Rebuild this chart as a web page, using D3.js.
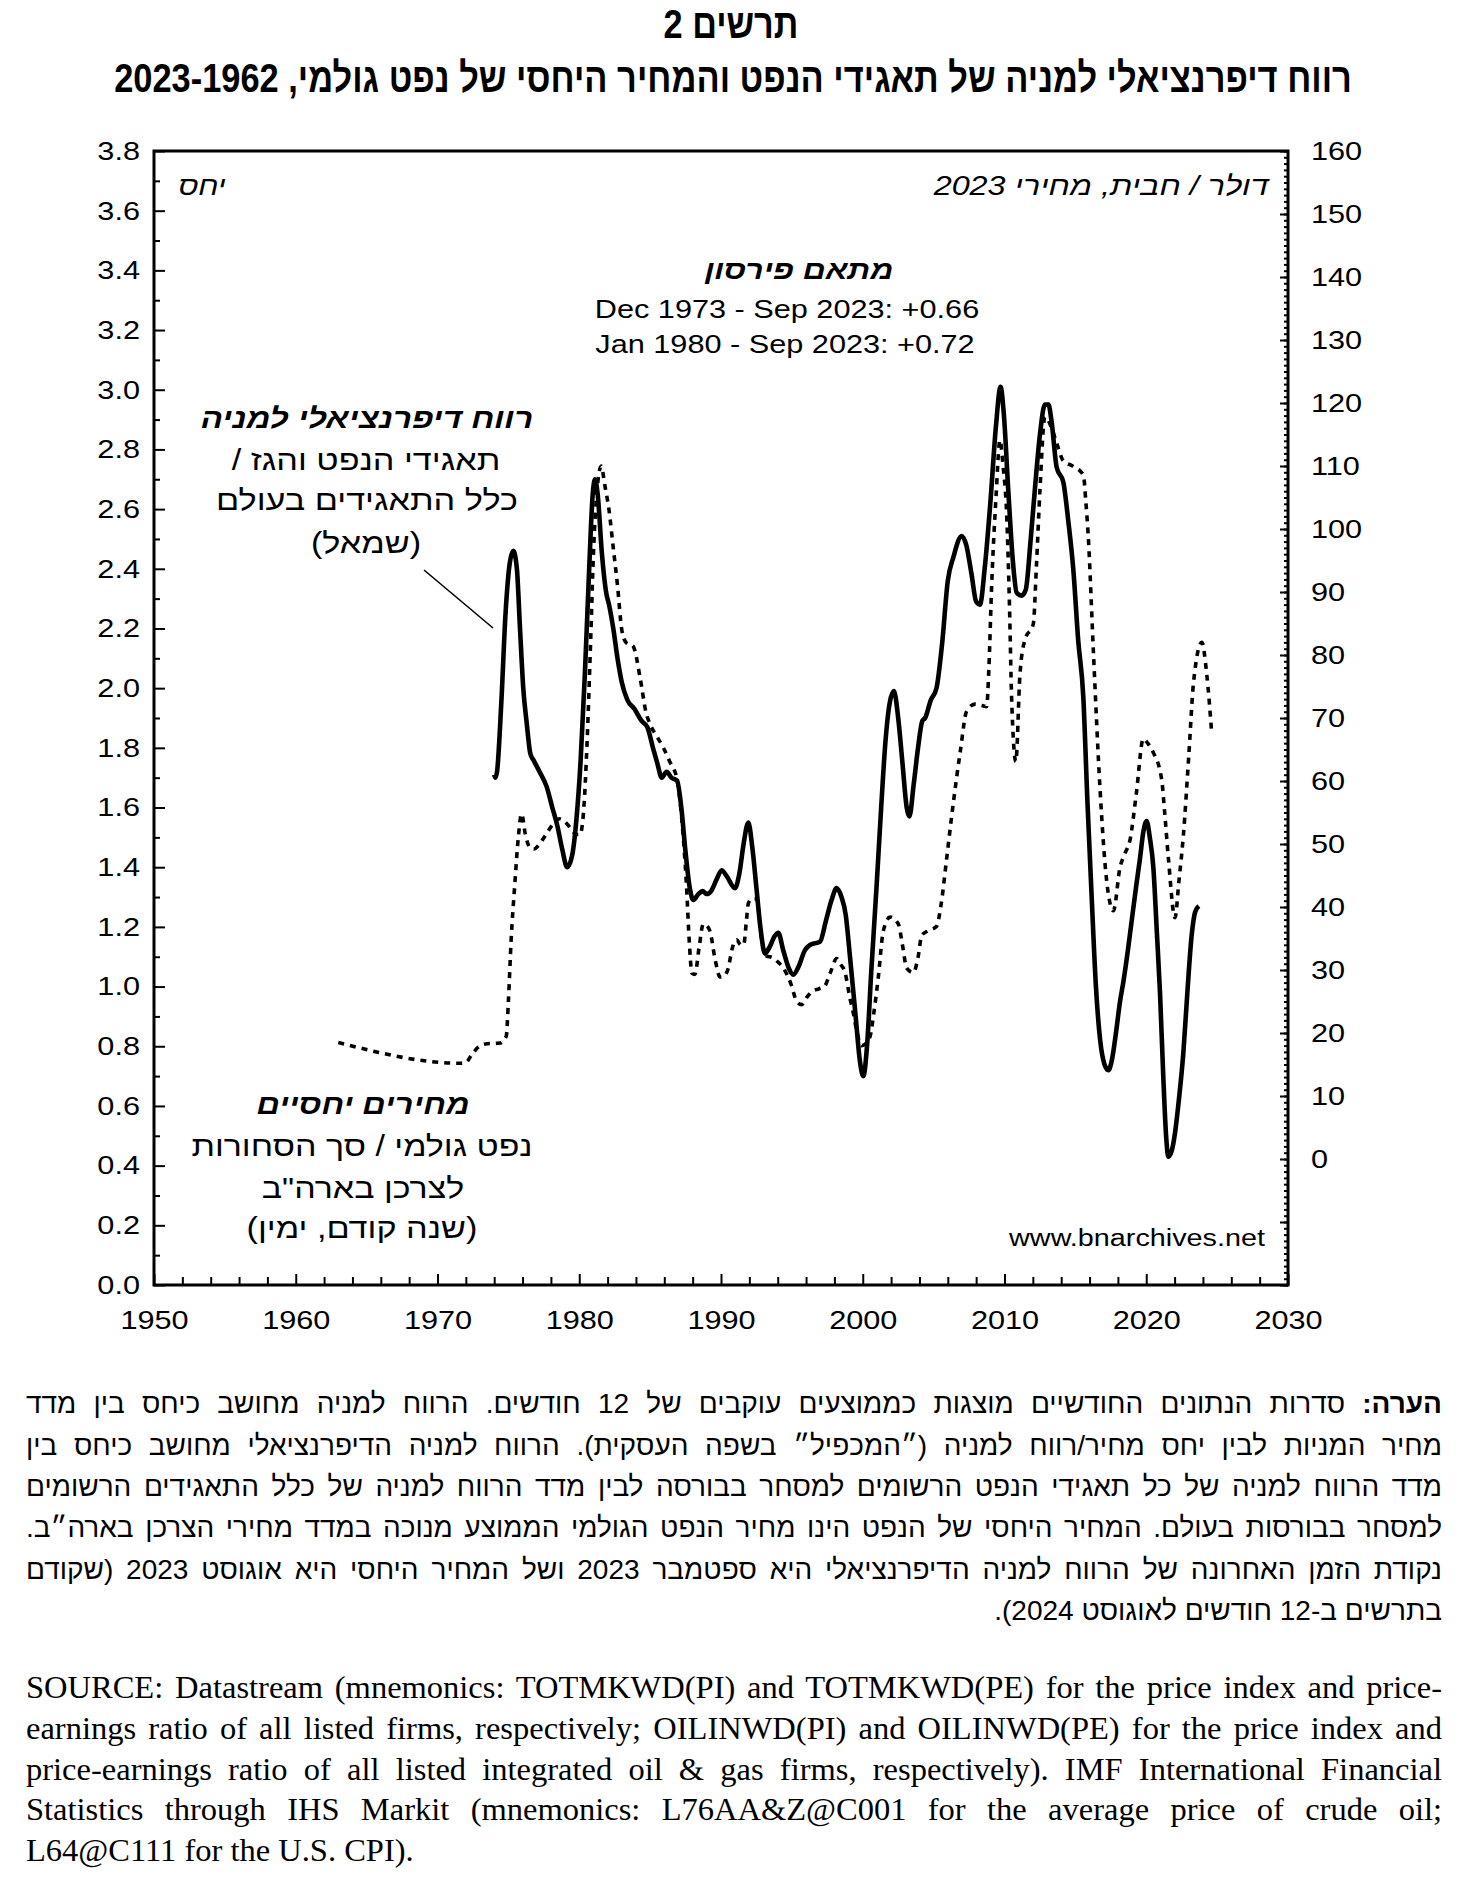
<!DOCTYPE html>
<html><head><meta charset="utf-8">
<script src="https://cdn.jsdelivr.net/npm/d3@7"></script>
<style>
body{margin:0;background:#fff;}
#wrap{position:relative;width:1462px;height:1884px;overflow:hidden;background:#fff}
svg{position:absolute;left:0;top:0}
.ln{position:absolute;left:26px;width:1416px;line-height:0;height:0;text-align:justify;text-align-last:justify;color:#000;white-space:normal}
.he{direction:rtl;font-family:"Liberation Sans",Arial,sans-serif;font-size:28px}
.en{direction:ltr;font-family:"Liberation Serif","Times New Roman",serif;font-size:32.5px}
.he.last{text-align-last:right}
.en.last{text-align-last:left}
</style></head>
<body><div id="wrap"><svg id="chart" width="1462" height="1884"></svg></div>
<script>
// ---------- DATA ----------
const titleLines = ["תרשים 2", "רווח דיפרנציאלי למניה של תאגידי הנפט והמחיר היחסי של נפט גולמי, 1962\u200F-\u200F2023"];

// Differential EPS: oil & gas firms / all firms (left axis)
const epsYears = [1974.0,1974.08,1974.2,1974.5,1974.8,1975.1,1975.35,1975.6,1975.82,1976.05,1976.3,1976.55,1976.76,1977.2,1977.7,1978.1,1978.45,1978.8,1979.15,1979.5,1979.8,1980.1,1980.4,1980.7,1980.95,1981.11,1981.3,1981.6,1981.9,1982.1,1982.4,1982.7,1983.0,1983.4,1983.9,1984.4,1984.8,1985.2,1985.5,1985.82,1986.17,1986.5,1986.9,1987.2,1987.5,1987.8,1988.05,1988.4,1988.7,1989.0,1989.3,1989.7,1990.05,1990.4,1990.99,1991.3,1991.6,1991.93,1992.2,1992.5,1992.8,1993.1,1993.4,1993.8,1994.04,1994.4,1994.8,1995.1,1995.5,1995.9,1996.3,1996.98,1997.4,1997.8,1998.16,1998.5,1998.8,1999.1,1999.5,1999.8,2000.04,2000.3,2000.6,2000.98,2001.3,2001.6,2001.9,2002.2,2002.5,2002.8,2003.1,2003.29,2003.6,2003.9,2004.2,2004.4,2004.8,2005.2,2005.6,2006.0,2006.4,2006.98,2007.3,2007.68,2008.0,2008.27,2008.6,2009.0,2009.4,2009.72,2009.95,2010.27,2010.6,2010.86,2011.2,2011.5,2011.85,2012.15,2012.5,2012.85,2013.1,2013.33,2013.68,2014.15,2014.5,2014.85,2015.2,2015.56,2015.85,2016.15,2016.45,2016.75,2017.05,2017.33,2017.6,2017.85,2018.15,2018.4,2018.7,2018.97,2019.3,2019.56,2019.8,2020.03,2020.25,2020.5,2020.75,2020.97,2021.2,2021.4,2021.56,2021.8,2022.03,2022.3,2022.62,2022.9,2023.2,2023.45,2023.71];
const epsRatio = [1.71,1.70,1.72,1.95,2.25,2.42,2.46,2.40,2.20,2.00,1.88,1.78,1.76,1.72,1.67,1.60,1.54,1.46,1.40,1.44,1.56,1.76,2.05,2.40,2.65,2.70,2.65,2.45,2.32,2.28,2.20,2.10,2.02,1.96,1.93,1.89,1.87,1.80,1.75,1.70,1.72,1.70,1.69,1.60,1.45,1.33,1.29,1.31,1.32,1.31,1.32,1.36,1.39,1.37,1.33,1.38,1.48,1.55,1.47,1.33,1.19,1.11,1.13,1.17,1.18,1.12,1.06,1.04,1.07,1.12,1.14,1.15,1.22,1.29,1.33,1.30,1.24,1.10,0.90,0.75,0.70,0.80,1.05,1.34,1.60,1.82,1.95,1.99,1.90,1.75,1.60,1.57,1.68,1.80,1.89,1.90,1.96,2.00,2.15,2.36,2.44,2.51,2.48,2.38,2.29,2.28,2.40,2.62,2.88,3.01,2.92,2.66,2.42,2.32,2.31,2.33,2.50,2.67,2.85,2.95,2.95,2.89,2.74,2.69,2.56,2.40,2.16,1.97,1.62,1.30,1.00,0.82,0.74,0.72,0.76,0.84,0.95,1.02,1.12,1.22,1.34,1.43,1.52,1.555,1.50,1.40,1.18,0.98,0.70,0.50,0.43,0.45,0.51,0.62,0.78,0.98,1.17,1.25,1.27];

// Relative price of crude oil, 2023 $/barrel, led by one year (right axis)
const oilYears = [1963.0,1971.6,1972.0,1972.4,1972.9,1973.5,1974.4,1974.85,1975.0,1975.2,1975.45,1975.7,1975.93,1976.2,1976.5,1976.8,1977.2,1977.6,1978.1,1978.6,1979.0,1979.4,1979.8,1980.05,1980.3,1980.55,1980.8,1981.0,1981.25,1981.55,1981.8,1982.1,1982.4,1982.7,1983.0,1983.3,1983.8,1984.3,1984.7,1985.0,1985.5,1985.93,1986.4,1986.87,1987.1,1987.34,1987.55,1987.75,1987.95,1988.16,1988.45,1988.75,1989.0,1989.22,1989.6,1989.93,1990.2,1990.51,1990.8,1991.1,1991.4,1991.6,1991.8,1991.93,1992.2,1992.52,1992.87,1993.22,1993.6,1994.0,1994.4,1994.98,1995.3,1995.68,1996.1,1996.51,1996.9,1997.33,1997.7,1998.16,1998.4,1998.75,1999.1,1999.34,1999.6,1999.92,2000.2,2000.51,2000.8,2001.1,2001.45,2001.93,2002.51,2002.8,2003.1,2003.57,2003.9,2004.16,2004.6,2005.2,2005.5,2005.91,2006.25,2006.62,2006.9,2007.33,2007.92,2008.4,2008.74,2008.9,2009.09,2009.4,2009.68,2009.9,2010.15,2010.35,2010.5,2010.8,2011.09,2011.44,2012.03,2012.25,2012.5,2012.85,2013.33,2013.7,2014.15,2014.8,2015.56,2015.75,2015.91,2016.27,2016.74,2017.21,2017.68,2018.15,2018.5,2018.86,2019.3,2019.79,2020.1,2020.5,2021.09,2021.3,2021.56,2022.03,2022.3,2022.62,2023.0,2023.33,2023.92,2024.27,2024.62];
const oilPrice = [18.5,15.2,15.3,16.5,17.8,18.3,18.4,19.5,25,35,43.5,51,54.8,51.5,49.5,49.2,50.0,51.3,53.0,54.0,53.5,52.5,51.5,51.5,55,66,82,96,106,110,107,103,97,91,84,82,81.4,76.3,71,69,67,65.3,63,60.5,57,51,44,35,29.5,29.3,33.5,37.3,37,36.2,31.5,28.9,29,30.3,33.5,34.8,34,34,38,40.6,41.3,41.3,34.8,32.2,32.0,31.3,30.3,27.5,25.2,24.5,25.8,26.7,27,27.5,29.5,31.8,31,29.6,25.5,23.1,20,18.0,18.3,19.4,23.5,28.9,36.2,38.4,37.3,34,30.3,29.6,32,35.5,36.2,36.9,40,47.5,54,60.5,65,71.1,72.2,72,71.8,78,90.8,105,114.1,110,102.4,88,73.3,63.1,76.9,82.4,84.9,94,106.1,117.8,116,113.5,110.8,110,108.6,104,98.8,80.6,58.7,44.1,39.4,46.3,48.5,50.7,58,66.7,66,64.5,60.2,55,47.8,38.3,44,51.4,64,75.5,82.0,76.9,67.5];

const xTickYears = [1950,1960,1970,1980,1990,2000,2010,2020,2030];
const xMinorYears = [1952,1954,1956,1958,1962,1964,1966,1968,1972,1974,1976,1978,1982,1984,1986,1988,1992,1994,1996,1998,2002,2004,2006,2008,2012,2014,2016,2018,2022,2024,2026,2028];
const leftTicks = [0,0.2,0.4,0.6,0.8,1.0,1.2,1.4,1.6,1.8,2.0,2.2,2.4,2.6,2.8,3.0,3.2,3.4,3.6,3.8];
const leftMinor = [0.1,0.3,0.5,0.7,0.9,1.1,1.3,1.5,1.7,1.9,2.1,2.3,2.5,2.7,2.9,3.1,3.3,3.5,3.7];
const rightTicks = [0,10,20,30,40,50,60,70,80,90,100,110,120,130,140,150,160];
const rightUnlabeled = [-20,-10];

const leftUnitLabel = "יחס";
const rightUnitLabel = "דולר / חבית, מחירי 2023";
const pearsonTitle = "מתאם פירסון";
const pearsonLines = ["Dec 1973 - Sep 2023: +0.66", "Jan 1980 - Sep 2023: +0.72"];
const epsLabel = ["רווח דיפרנציאלי למניה", "תאגידי הנפט והגז /", "כלל התאגידים בעולם", "(שמאל)"];
const oilLabel = ["מחירים יחסיים", "נפט גולמי / סך הסחורות", "לצרכן בארה\"ב", "(שנה קודם, ימין)"];
const siteLabel = "www.bnarchives.net";

const noteLines = [
  "<b>הערה:</b> סדרות הנתונים החודשיים מוצגות כממוצעים עוקבים של 12 חודשים. הרווח למניה מחושב כיחס בין מדד",
  "מחיר המניות לבין יחס מחיר/רווח למניה (״המכפיל״ בשפה העסקית). הרווח למניה הדיפרנציאלי מחושב כיחס בין",
  "מדד הרווח למניה של כל תאגידי הנפט הרשומים למסחר בבורסה לבין מדד הרווח למניה של כלל התאגידים הרשומים",
  "למסחר בבורסות בעולם. המחיר היחסי של הנפט הינו מחיר הנפט הגולמי הממוצע מנוכה במדד מחירי הצרכן בארה״ב.",
  "נקודת הזמן האחרונה של הרווח למניה הדיפרנציאלי היא ספטמבר 2023 ושל המחיר היחסי היא אוגוסט 2023 (שקודם",
  "בתרשים ב-12 חודשים לאוגוסט 2024)."
];
const sourceLines = [
  "SOURCE: Datastream (mnemonics: TOTMKWD(PI) and TOTMKWD(PE) for the price index and price-",
  "earnings ratio of all listed firms, respectively; OILINWD(PI) and OILINWD(PE) for the price index and",
  "price-earnings ratio of all listed integrated oil &amp; gas firms, respectively). IMF International Financial",
  "Statistics through IHS Markit (mnemonics: L76AA&amp;Z@C001 for the average price of crude oil;",
  "L64@C111 for the U.S. CPI)."
];

// ---------- CHART ----------
const SX = 1.18; // horizontal stretch of chart text
const FONT = '"Liberation Sans", Arial, sans-serif';
const svg = d3.select("#chart");
const L = 154, R = 1288, T = 151, B = 1285;
const x = d3.scaleLinear().domain([1950, 2030]).range([L, R]);
const yL = d3.scaleLinear().domain([0, 3.8]).range([B, T]);
const yR = d3.scaleLinear().domain([-20, 160]).range([B, T]);

// titles: measured, then squeezed horizontally to the reference width
function title(str, cx, cy, size, width) {
  const t = svg.append("text").text(str)
    .attr("x", 0).attr("y", 0).attr("text-anchor", "middle").attr("direction", "rtl")
    .attr("font-family", FONT).attr("font-weight", "bold").attr("font-size", size).attr("fill", "#000");
  const w = t.node().getComputedTextLength();
  t.attr("transform", `translate(${cx},${cy}) scale(${width / w},1)`);
}
title(titleLines[0], 731, 38, 41, 135);
title(titleLines[1], 733, 92, 41, 1238);

function styleAxis(g) {
  g.select(".domain").remove();
  g.selectAll("line").attr("stroke", "#000").attr("stroke-width", 2);
  g.selectAll("text").attr("font-family", FONT).attr("font-size", 26).attr("fill", "#000");
}

// left axis
svg.append("g").attr("transform", `translate(${L},0)`)
  .call(d3.axisLeft(yL).tickValues(leftMinor).tickSize(-6).tickFormat(""))
  .call(styleAxis);
svg.append("g").attr("transform", `translate(${L},0)`)
  .call(d3.axisLeft(yL).tickValues(leftTicks).tickSize(-11).tickPadding(14).tickFormat(d3.format(".1f")))
  .call(styleAxis)
  .call(g => g.selectAll("text").attr("transform", `scale(${SX},1)`).attr("x", -14 / SX));

// right axis
svg.append("g").attr("transform", `translate(${R},0)`)
  .call(d3.axisRight(yR).tickValues(d3.range(-20, 161, 1)).tickSize(-4).tickFormat(""))
  .call(styleAxis);
svg.append("g").attr("transform", `translate(${R},0)`)
  .call(d3.axisRight(yR).tickValues(rightUnlabeled).tickSize(-8).tickFormat(""))
  .call(styleAxis);
svg.append("g").attr("transform", `translate(${R},0)`)
  .call(d3.axisRight(yR).tickValues(rightTicks).tickSize(-8).tickPadding(23).tickFormat(d3.format("d")))
  .call(styleAxis)
  .call(g => g.selectAll("text").attr("transform", `scale(${SX},1)`).attr("x", 23 / SX));

// bottom axis
svg.append("g").attr("transform", `translate(0,${B})`)
  .call(d3.axisBottom(x).tickValues(xMinorYears).tickSize(-8).tickFormat(""))
  .call(styleAxis);
svg.append("g").attr("transform", `translate(0,${B})`)
  .call(d3.axisBottom(x).tickValues(xTickYears).tickSize(-11).tickPadding(26).tickFormat(d3.format("d")))
  .call(styleAxis)
  .call(g => g.selectAll("text").attr("transform", `scale(${SX},1)`));

// frame
svg.append("rect").attr("x", L).attr("y", T).attr("width", R - L).attr("height", B - T)
  .attr("fill", "none").attr("stroke", "#000").attr("stroke-width", 3);

// series
const eps = epsYears.map((y, i) => [y, epsRatio[i]]);
const oil = oilYears.map((y, i) => [y, oilPrice[i]]);
svg.append("path").datum(oil)
  .attr("fill", "none").attr("stroke", "#000").attr("stroke-width", 3.6)
  .attr("stroke-dasharray", "6,6")
  .attr("d", d3.line().x(d => x(d[0])).y(d => yR(d[1])).curve(d3.curveMonotoneX));
svg.append("path").datum(eps)
  .attr("fill", "none").attr("stroke", "#000").attr("stroke-width", 4.6)
  .attr("stroke-linejoin", "round")
  .attr("d", d3.line().x(d => x(d[0])).y(d => yL(d[1])).curve(d3.curveMonotoneX));

// annotation helper
function label(px, py, str, opt = {}) {
  const t = svg.append("text").text(str)
    .attr("transform", `translate(${px},${py}) scale(${SX},1)`)
    .attr("text-anchor", opt.anchor || "middle")
    .attr("direction", opt.dir || "rtl")
    .attr("font-family", FONT).attr("font-size", opt.size || 26)
    .attr("fill", "#000");
  if (opt.bold) t.attr("font-weight", "bold");
  if (opt.italic) t.attr("font-style", "italic");
  return t;
}
label(202, 195, leftUnitLabel, {italic: true, size: 26});
label(1101, 195, rightUnitLabel, {italic: true, size: 27.4});
label(799, 279, pearsonTitle, {bold: true, italic: true, size: 27});
label(787, 318, pearsonLines[0], {dir: "ltr"});
label(785, 353, pearsonLines[1], {dir: "ltr"});
label(367, 428, epsLabel[0], {bold: true, italic: true, size: 28});
label(366, 470, epsLabel[1], {size: 29});
label(367, 510, epsLabel[2], {size: 29});
label(366, 553, epsLabel[3], {size: 29});
label(363, 1114, oilLabel[0], {bold: true, italic: true, size: 27.5});
label(362, 1156, oilLabel[1], {size: 28.8});
label(363, 1198, oilLabel[2], {size: 28.8});
label(362, 1238, oilLabel[3], {size: 29});
label(1265, 1246, siteLabel, {dir: "ltr", anchor: "end", size: 24.4});

// leader line for the EPS label
svg.append("line").attr("x1", 424).attr("y1", 570).attr("x2", 493).attr("y2", 628)
  .attr("stroke", "#000").attr("stroke-width", 1.6);

// ---------- NOTES ----------
const wrap = d3.select("#wrap");
noteLines.forEach((s, i) => {
  const base = 1414 + 41.4 * i;
  wrap.append("div").attr("class", "ln he" + (i === noteLines.length - 1 ? " last" : ""))
    .style("top", (base - 0.3465 * 28) + "px").html(s);
});
sourceLines.forEach((s, i) => {
  const base = 1698 + 40.8 * i;
  wrap.append("div").attr("class", "ln en" + (i === sourceLines.length - 1 ? " last" : ""))
    .style("top", (base - 0.3375 * 32.5) + "px").html(s);
});
</script>
</body></html>
